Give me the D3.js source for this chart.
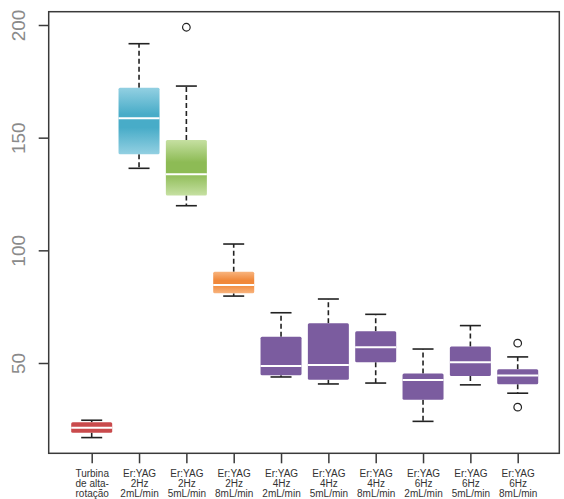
<!DOCTYPE html>
<html lang="pt">
<head>
<meta charset="UTF-8"/>
<title>Boxplot</title>
<script src="https://d3js.org/d3.v7.min.js"></script>
<style>
  body { margin: 0; background: #fff; }
  svg { display: block; }
</style>
</head>
<body>
<script>
// ---- data ----
var categories = [
  ["Turbina", "de alta-", "rotação"],
  ["Er:YAG", "2Hz", "2mL/min"],
  ["Er:YAG", "2Hz", "5mL/min"],
  ["Er:YAG", "2Hz", "8mL/min"],
  ["Er:YAG", "4Hz", "2mL/min"],
  ["Er:YAG", "4Hz", "5mL/min"],
  ["Er:YAG", "4Hz", "8mL/min"],
  ["Er:YAG", "6Hz", "2mL/min"],
  ["Er:YAG", "6Hz", "5mL/min"],
  ["Er:YAG", "6Hz", "8mL/min"]
];
var whiskLow  = [16.9, 136.4, 119.8, 79.7, 43.8, 40.7, 41.1, 24.1, 40.3, 36.6];
var q1        = [19.1, 142.6, 124.3, 80.9, 44.6, 42.6, 50.3, 33.7, 44.2, 40.6];
var medians   = [21.3, 158.6, 133.8, 84.6, 48.7, 49.1, 57.0, 42.5, 50.3, 44.4];
var q3        = [23.7, 172.2, 149.0, 90.5, 61.7, 67.6, 64.1, 45.3, 57.3, 47.2];
var whiskHigh = [24.6, 191.7, 172.9, 102.8, 72.3, 78.4, 71.6, 56.2, 66.6, 52.7];
var outliers  = [[], [], [199.0], [], [], [], [], [], [], [58.8, 30.4]];
var yTicks = [50, 100, 150, 200];
// light / dark colour of each box
var lightCol = ["#c94a4c", "#93d0e2", "#c6e0a2", "#f8b47e", "#7b5c9f", "#7b5c9f", "#7b5c9f", "#7b5c9f", "#7b5c9f", "#7b5c9f"];
var darkCol  = ["#c94a4c", "#48acc8", "#8dbb55", "#f0883a", "#7b5c9f", "#7b5c9f", "#7b5c9f", "#7b5c9f", "#7b5c9f", "#7b5c9f"];

var W = 564, H = 499;
var frameL = 48.7, frameT = 11.7, frameR = 559.3, frameB = 453.3;

var svg = d3.select("body").append("svg")
  .attr("width", W).attr("height", H);

var xScale = d3.scalePoint()
  .domain(d3.range(categories.length))
  .range([91.7, 517.7]);

var yScale = d3.scaleLinear()
  .domain([50, 200])
  .range([363, 25]);

var boxW = 41, capW = 21;

// gradients
var defs = svg.append("defs");
categories.forEach(function(c, i) {
  var g = defs.append("linearGradient")
    .attr("id", "grad" + i)
    .attr("x1", 0).attr("y1", 0).attr("x2", 0).attr("y2", 1);
  g.append("stop").attr("offset", "0").attr("stop-color", lightCol[i]);
  g.append("stop").attr("offset", "0.4").attr("stop-color", darkCol[i]);
  g.append("stop").attr("offset", "0.6").attr("stop-color", darkCol[i]);
  g.append("stop").attr("offset", "1").attr("stop-color", lightCol[i]);
});

// ---- boxes ----
var boxes = svg.selectAll("g.box")
  .data(d3.range(categories.length))
  .enter().append("g")
  .attr("class", "box")
  .attr("transform", function(i) { return "translate(" + xScale(i) + ",0)"; });

// whiskers (dashed)
boxes.append("line")
  .attr("x1", 0).attr("x2", 0)
  .attr("y1", function(i) { return yScale(q3[i]); })
  .attr("y2", function(i) { return yScale(whiskHigh[i]); })
  .attr("stroke", "#222").attr("stroke-width", 1.6)
  .attr("stroke-dasharray", "5,3");
boxes.append("line")
  .attr("x1", 0).attr("x2", 0)
  .attr("y1", function(i) { return yScale(q1[i]); })
  .attr("y2", function(i) { return yScale(whiskLow[i]); })
  .attr("stroke", "#222").attr("stroke-width", 1.6)
  .attr("stroke-dasharray", "5,3");
// caps
boxes.append("line")
  .attr("x1", -capW / 2).attr("x2", capW / 2)
  .attr("y1", function(i) { return yScale(whiskHigh[i]); })
  .attr("y2", function(i) { return yScale(whiskHigh[i]); })
  .attr("stroke", "#222").attr("stroke-width", 1.6);
boxes.append("line")
  .attr("x1", -capW / 2).attr("x2", capW / 2)
  .attr("y1", function(i) { return yScale(whiskLow[i]); })
  .attr("y2", function(i) { return yScale(whiskLow[i]); })
  .attr("stroke", "#222").attr("stroke-width", 1.6);

// box body
boxes.append("rect")
  .attr("x", -boxW / 2)
  .attr("width", boxW)
  .attr("y", function(i) { return yScale(q3[i]); })
  .attr("height", function(i) { return yScale(q1[i]) - yScale(q3[i]); })
  .attr("rx", 1.5)
  .attr("fill", function(i) { return "url(#grad" + i + ")"; });

// median
boxes.append("line")
  .attr("x1", -boxW / 2).attr("x2", boxW / 2)
  .attr("y1", function(i) { return yScale(medians[i]); })
  .attr("y2", function(i) { return yScale(medians[i]); })
  .attr("stroke", "#fff").attr("stroke-width", 2);

// outliers
boxes.selectAll("circle")
  .data(function(i) { return outliers[i]; })
  .enter().append("circle")
  .attr("cx", 0)
  .attr("cy", function(d) { return yScale(d); })
  .attr("r", 3.8)
  .attr("fill", "none")
  .attr("stroke", "#222").attr("stroke-width", 1.2);

// ---- frame ----
svg.append("rect")
  .attr("x", frameL).attr("y", frameT)
  .attr("width", frameR - frameL).attr("height", frameB - frameT)
  .attr("fill", "none").attr("stroke", "#3a3a3a").attr("stroke-width", 1.5);

// ---- y axis ----
var yAxis = svg.append("g")
  .attr("transform", "translate(" + frameL + ",0)")
  .call(d3.axisLeft(yScale).tickValues(yTicks).tickSize(10).tickFormat(d3.format("d")));
yAxis.select(".domain").remove();
yAxis.selectAll(".tick line").attr("stroke", "#3a3a3a").attr("stroke-width", 1.5);
yAxis.selectAll(".tick text")
  .attr("x", 0).attr("dy", "0.35em")
  .attr("transform", "translate(-30.5,0) rotate(-90)")
  .attr("text-anchor", "middle")
  .attr("fill", "#8a8a8a")
  .style("font-family", "'Liberation Sans', Arial, sans-serif")
  .style("font-size", "19px");

// ---- x axis ----
var xAxis = svg.append("g")
  .attr("transform", "translate(0," + frameB + ")")
  .call(d3.axisBottom(xScale).tickSize(10).tickFormat(""));
xAxis.select(".domain").remove();
xAxis.selectAll(".tick line").attr("stroke", "#3a3a3a").attr("stroke-width", 1.5);

xAxis.selectAll(".tick text").remove();
xAxis.selectAll(".tick").each(function(i) {
  var t = d3.select(this).append("text")
    .attr("text-anchor", "middle")
    .attr("fill", "#333")
    .style("font-family", "'Liberation Sans', Arial, sans-serif")
    .style("font-size", "10px");
  categories[i].forEach(function(line, k) {
    t.append("tspan").attr("x", 0).attr("y", 23.5 + k * 10).text(line);
  });
});
</script>
</body>
</html>
